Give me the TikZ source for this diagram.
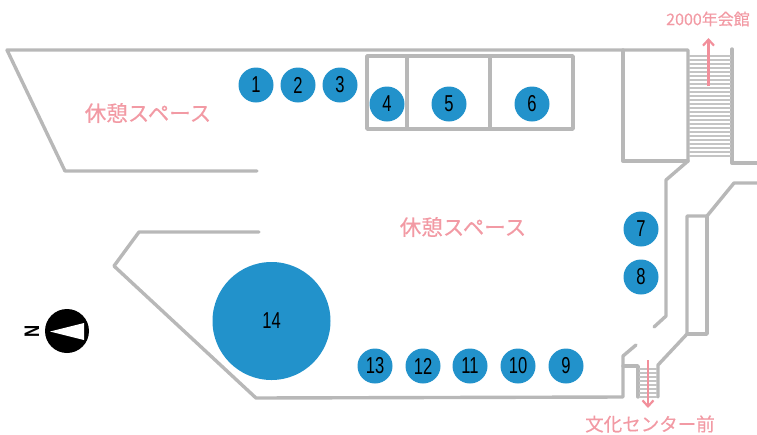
\documentclass[tikz,border=0pt]{standalone}
\usepackage{fontspec}
\usetikzlibrary{arrows.meta}
\newfontfamily\cjk[FakeBold=0.3]{Noto Sans CJK JP}
\newfontfamily\numf[FakeStretch=0.72]{Liberation Sans}
\newfontfamily\northf[FakeStretch=0.8]{Liberation Sans}
\definecolor{wall}{HTML}{B8B8B8}
\definecolor{tread}{HTML}{C4C4C4}
\definecolor{pinktext}{HTML}{F29AA4}
\definecolor{pinkarrow}{HTML}{F28F9B}
\definecolor{booth}{HTML}{2292CB}
\tikzset{
  wallline/.style={draw=wall,line width=3.4pt,line join=round,line cap=round},
  treadline/.style={draw=tread,line width=1.1pt},
  boothdot/.style={circle,fill=booth,minimum size=35pt,inner sep=0pt,font=\numf\fontsize{23}{23}\selectfont,text=black},
  bigdot/.style={circle,fill=booth,minimum size=118pt,inner sep=0pt,font=\numf\fontsize{23}{23}\selectfont,text=black},
  arealabel/.style={font=\cjk\fontsize{21.5}{21.5}\selectfont,text=pinktext,inner sep=0pt},
  destlabel/.style={text=pinktext,inner sep=0pt},
  pinkarrowline/.style={draw=pinkarrow,line width=2.2pt,-{Straight Barb[length=6pt,width=11pt,line width=2.2pt]}},
}
\begin{document}
\begin{tikzpicture}[x=1pt,y=-1pt]
\useasboundingbox (0,0) rectangle (757,434);
% walls
\draw[wallline] (257,171) -- (65,171) -- (7,50) -- (688,50) -- (688,161) -- (666,180) -- (666,316) -- (654,327);
\draw[wallline] (623,50) -- (623,161) -- (688,161);
\draw[wallline] (636,345) -- (623,356) -- (623,397) -- (256,398) -- (114,266) -- (139,232) -- (259,232);
\draw[wallline] (732,49) -- (732,163) -- (757,163);
\draw[wallline] (757,183) -- (734,183) -- (707,216) -- (687,216) -- (687,334) -- (658,365) -- (658,397);
\draw[wallline] (707,216) -- (707,334) -- (687,334);
\draw[wallline] (623,366) -- (638,366) -- (638,397);
\draw[wallline] (367,56) rectangle (573,129);
\draw[wallline] (407,56) -- (407,129);
\draw[wallline] (490,56) -- (490,129);
% treads
\foreach \y in {56,60,...,156} \draw[treadline] (689,\y) -- (731,\y);
\foreach \y in {369,373,...,397} \draw[treadline] (639,\y) -- (657,\y);
% labels and arrows
\coordinate (upfrom) at (708.5,86);
\coordinate (upto) at (708.5,38);
\coordinate (downfrom) at (648,360);
\coordinate (downto) at (648,408);
\draw[pinkarrowline] (upfrom) -- (upto);
\draw[pinkarrowline] (downfrom) -- (downto);
\node[arealabel] (restA) at (148,113) {休憩スペース};
\node[arealabel] (restB) at (463,227) {休憩スペース};
\node[destlabel,font=\cjk\fontsize{16}{16}\selectfont] (bldg) at (708,19) {2000年会館};
\node[destlabel,font=\cjk\fontsize{18.5}{18.5}\selectfont] (center) at (650,424) {文化センター前};
% booths
\node[boothdot] (b1) at (256,85) {1};
\node[boothdot] (b2) at (298,85) {2};
\node[boothdot] (b3) at (340,85) {3};
\node[boothdot] (b4) at (387,104) {4};
\node[boothdot] (b5) at (449,104) {5};
\node[boothdot] (b6) at (532,104) {6};
\node[boothdot] (b7) at (641,229) {7};
\node[boothdot] (b8) at (641,277) {8};
\node[boothdot] (b9) at (566,366) {9};
\node[boothdot] (b10) at (518,366) {10};
\node[boothdot] (b11) at (470,366) {11};
\node[boothdot] (b12) at (423,366) {12};
\node[boothdot] (b13) at (375,366) {13};
\node[bigdot] (b14) at (271.5,321) {14};
% compass
\node[circle,fill=black,minimum size=44pt,inner sep=0pt] (compass) at (67,331) {};
\fill[white] (50,331.5) -- (84,323) -- (84,340) -- cycle;
\node[rotate=90,inner sep=0pt,font=\northf\bfseries\fontsize{21}{21}\selectfont] (north) at (32,331) {N};
\end{tikzpicture}
\end{document}
